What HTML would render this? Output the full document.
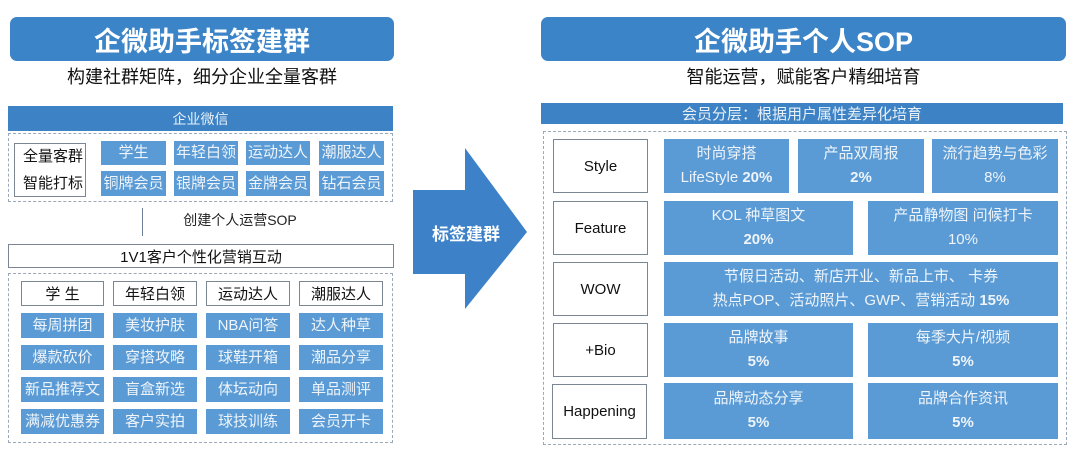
<!DOCTYPE html>
<html><head><meta charset="utf-8"><style>
*{margin:0;padding:0;box-sizing:border-box}
body{width:1080px;height:459px;background:#fff;position:relative;overflow:hidden;font-family:"Liberation Sans","Noto Sans CJK SC",sans-serif}
.a{position:absolute;display:flex;align-items:center;justify-content:center;text-align:center}
.hd{background:#3c84c8;color:#fff;font-weight:bold;font-size:27px;border-radius:7px}
.bar{background:#3d82c4;color:#e8f0f8;font-size:14px}
.dot{border:1px dashed #9aa8b8}
.c{background:#5b9bd5;color:#eef4fa;font-size:15px;line-height:1.6}
.w{border:1px solid #7a8692;background:#fff;color:#111;font-size:15px}
.sub{font-size:18px;color:#111}
b{font-weight:bold}
</style></head><body>
<div class="a hd" style="left:10px;top:17px;width:384px;height:44px">企微助手标签建群</div>
<div class="a sub" style="left:10px;top:64px;width:384px;height:24px">构建社群矩阵，细分企业全量客群</div>
<div class="a bar" style="left:8px;top:106px;width:385px;height:25px">企业微信</div>
<div class="a dot" style="left:8px;top:133px;width:385px;height:69px"></div>
<div class="a w" style="left:14px;top:143px;width:72px;height:54px;font-size:15px;line-height:27px;justify-content:flex-start;padding-left:8px;overflow:visible;white-space:nowrap"><span style="text-align:left">全量客群<br>智能打标</span></div>
<div class="a c" style="left:101px;top:141px;width:65px;height:24px">学生</div>
<div class="a c" style="left:174px;top:141px;width:64px;height:24px">年轻白领</div>
<div class="a c" style="left:246px;top:141px;width:64px;height:24px">运动达人</div>
<div class="a c" style="left:319px;top:141px;width:65px;height:24px">潮服达人</div>
<div class="a c" style="left:101px;top:171px;width:65px;height:25px">铜牌会员</div>
<div class="a c" style="left:174px;top:171px;width:64px;height:25px">银牌会员</div>
<div class="a c" style="left:246px;top:171px;width:64px;height:25px">金牌会员</div>
<div class="a c" style="left:319px;top:171px;width:65px;height:25px">钻石会员</div>
<div style="position:absolute;left:142px;top:208px;width:1px;height:28px;background:#6c8098"></div>
<div class="a" style="left:170px;top:210px;width:140px;height:20px;font-size:14px;color:#222">创建个人运营SOP</div>
<div class="a" style="left:8px;top:244px;width:386px;height:24px;border:1px solid #7a8692;font-size:15px;color:#111">1V1客户个性化营销互动</div>
<div class="a dot" style="left:8px;top:273px;width:385px;height:170px"></div>
<div class="a w" style="left:21px;top:281px;width:83px;height:25px">学 生</div>
<div class="a w" style="left:113px;top:281px;width:84px;height:25px">年轻白领</div>
<div class="a w" style="left:206px;top:281px;width:84px;height:25px">运动达人</div>
<div class="a w" style="left:299px;top:281px;width:84px;height:25px">潮服达人</div>
<div class="a c" style="left:21px;top:313px;width:83px;height:25px">每周拼团</div>
<div class="a c" style="left:113px;top:313px;width:84px;height:25px">美妆护肤</div>
<div class="a c" style="left:206px;top:313px;width:84px;height:25px">NBA问答</div>
<div class="a c" style="left:299px;top:313px;width:84px;height:25px">达人种草</div>
<div class="a c" style="left:21px;top:345px;width:83px;height:25px">爆款砍价</div>
<div class="a c" style="left:113px;top:345px;width:84px;height:25px">穿搭攻略</div>
<div class="a c" style="left:206px;top:345px;width:84px;height:25px">球鞋开箱</div>
<div class="a c" style="left:299px;top:345px;width:84px;height:25px">潮品分享</div>
<div class="a c" style="left:21px;top:377px;width:83px;height:25px">新品推荐文</div>
<div class="a c" style="left:113px;top:377px;width:84px;height:25px">盲盒新选</div>
<div class="a c" style="left:206px;top:377px;width:84px;height:25px">体坛动向</div>
<div class="a c" style="left:299px;top:377px;width:84px;height:25px">单品测评</div>
<div class="a c" style="left:21px;top:409px;width:83px;height:25px">满减优惠券</div>
<div class="a c" style="left:113px;top:409px;width:84px;height:25px">客户实拍</div>
<div class="a c" style="left:206px;top:409px;width:84px;height:25px">球技训练</div>
<div class="a c" style="left:299px;top:409px;width:84px;height:25px">会员开卡</div>
<svg style="position:absolute;left:0;top:0" width="1080" height="459"><polygon points="413,190 465,190 465,148 527,232 465,309 465,274 413,274" fill="#3d82c8"/></svg>
<div class="a" style="left:428px;top:220px;width:76px;height:24px;color:#fff;font-weight:bold;font-size:17px">标签建群</div>
<div class="a hd" style="left:541px;top:17px;width:525px;height:44px">企微助手个人SOP</div>
<div class="a sub" style="left:541px;top:64px;width:525px;height:24px">智能运营，赋能客户精细培育</div>
<div class="a bar" style="left:541px;top:103px;width:522px;height:21px;font-size:15px">会员分层：根据用户属性差异化培育</div>
<div class="a dot" style="left:543px;top:131px;width:524px;height:314px"></div>
<div class="a w" style="left:553px;top:139px;width:95px;height:54px">Style</div>
<div class="a w" style="left:553px;top:201px;width:95px;height:54px">Feature</div>
<div class="a w" style="left:553px;top:262px;width:95px;height:54px">WOW</div>
<div class="a w" style="left:553px;top:323px;width:95px;height:54px">+Bio</div>
<div class="a w" style="left:552px;top:384px;width:95px;height:55px">Happening</div>
<div class="a c" style="left:664px;top:139px;width:125px;height:54px"><span>时尚穿搭<br>LifeStyle <b>20%</b></span></div>
<div class="a c" style="left:798px;top:139px;width:126px;height:54px"><span>产品双周报<br><b>2%</b></span></div>
<div class="a c" style="left:932px;top:139px;width:126px;height:54px"><span>流行趋势与色彩<br>8%</span></div>
<div class="a c" style="left:664px;top:201px;width:189px;height:54px"><span>KOL 种草图文<br><b>20%</b></span></div>
<div class="a c" style="left:868px;top:201px;width:190px;height:54px"><span>产品静物图 问候打卡<br>10%</span></div>
<div class="a c" style="left:664px;top:262px;width:394px;height:54px"><span>节假日活动、新店开业、新品上市、 卡券<br>热点POP、活动照片、GWP、营销活动 <b>15%</b></span></div>
<div class="a c" style="left:664px;top:323px;width:189px;height:54px"><span>品牌故事<br><b>5%</b></span></div>
<div class="a c" style="left:868px;top:323px;width:190px;height:54px"><span>每季大片/视频<br><b>5%</b></span></div>
<div class="a c" style="left:664px;top:383px;width:189px;height:56px"><span>品牌动态分享<br><b>5%</b></span></div>
<div class="a c" style="left:868px;top:383px;width:190px;height:56px"><span>品牌合作资讯<br><b>5%</b></span></div>
</body></html>
